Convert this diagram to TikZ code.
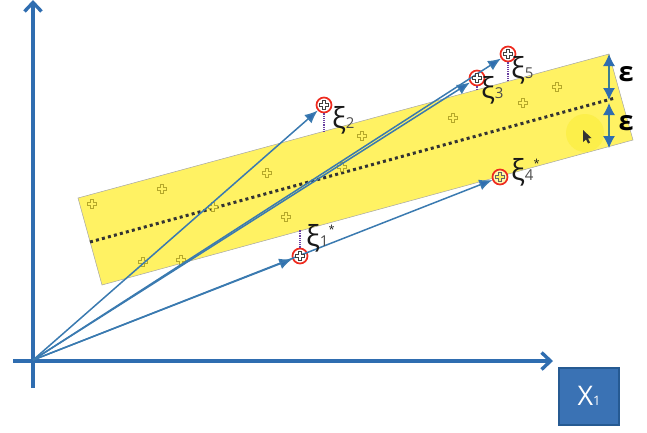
\documentclass[tikz,border=0pt]{standalone}
\usepackage{fontspec}
\setmainfont{Open Sans}
\usetikzlibrary{arrows.meta}
\definecolor{axisblue}{HTML}{2F6DB0}
\definecolor{boxblue}{HTML}{3A72B4}
\definecolor{boxedge}{HTML}{265A92}
\definecolor{bandyellow}{HTML}{FFF263}
\definecolor{glowyellow}{HTML}{FCEF4A}
\definecolor{plusedge}{HTML}{B5A82A}
\definecolor{slackpurple}{HTML}{6A3FA0}
\definecolor{vecblue}{HTML}{3A7AB0}
\definecolor{bartteal}{HTML}{3E7E90}
\definecolor{ptred}{HTML}{EE2A1E}
\tikzset{
  axisline/.style={draw=axisblue,line width=3.6pt,-{Straight Barb[length=9pt,width=17pt,line width=3.4pt]}},
  vecline/.style={draw=vecblue,line width=1.5pt,-{Latex[length=13pt,width=11pt,fill=axisblue]}},
  ptcircle/.style={circle,draw=ptred,line width=1.7pt,fill=white,minimum size=15pt,inner sep=0pt},
  slackline/.style={draw=slackpurple,line width=1.2pt,densely dotted},
  epsbar/.style={draw=bartteal,line width=1.2pt,{Latex[length=12pt,width=12pt,color=axisblue]}-{Latex[length=12pt,width=12pt,color=axisblue]}},
  ximark/.style={inner sep=0pt,text=black!90,font=\fontsize{29}{29}\selectfont},
  epsmark/.style={inner sep=0pt,font=\fontsize{27}{27}\selectfont\bfseries},
  plusmark/.pic={\draw[line width=0.7pt,fill=bandyellow,#1] (-1.7,-4.8) -- (1.7,-4.8) -- (1.7,-1.7) -- (4.8,-1.7) -- (4.8,1.7) -- (1.7,1.7) -- (1.7,4.8) -- (-1.7,4.8) -- (-1.7,1.7) -- (-4.8,1.7) -- (-4.8,-1.7) -- (-1.7,-1.7) -- cycle;}
}
\newcommand{\sublab}[1]{\fontsize{15}{15}\selectfont\textcolor{black!70}{#1}}
\newcommand{\starlab}{\fontsize{11}{11}\selectfont *}
\begin{document}
\begin{tikzpicture}[x=1pt,y=-1pt]
\useasboundingbox (0,0) rectangle (647,432);

% the band and its centre line
\fill[bandyellow,draw=black!35,line width=0.5pt] (78,198) -- (609,54) -- (633,140) -- (102,285) -- cycle;
\fill[glowyellow] (585,133) circle (19);
\fill[black!80] (583,130) -- (583,142) -- (586,139.5) -- (588,143.5) -- (590,142.5) -- (588,138.5) -- (591.5,138) -- cycle;
\draw[line width=3pt,dash pattern=on 3pt off 3.2pt,black!80] (90,242) -- (615,98);

\foreach \x/\y in {92/204,162/189,267/173,213/207,286/217,143/262,181/260,362/136,342/167,453/118,523/103,557/87}
\pic at (\x,\y) {plusmark={draw=plusedge}};

% axes
\coordinate (axl) at (13,361);
\coordinate (axr) at (553,361);
\coordinate (ayb) at (33,388);
\coordinate (ayt) at (33,0);
\coordinate (orig) at (33,360);
\draw[axisline] (axl) -- (axr);
\draw[axisline] (ayb) -- (ayt);

% points with slack
\node[ptcircle] (p1) at (300,256) {};
\node[ptcircle] (p2) at (324,105) {};
\node[ptcircle] (p3) at (477,78) {};
\node[ptcircle,fill=bandyellow!50] (p4) at (500,177) {};
\node[ptcircle] (p5) at (508,54) {};

\foreach \i in {1,2,3,4,5} \draw[vecline] (orig) -- (p\i);

\foreach \i in {1,2,3,5} \pic at (p\i) {plusmark={draw=black!75,fill=white}};
\pic at (p4) {plusmark={draw=black!60}};

\coordinate (s1) at (300,230);
\coordinate (s2) at (324,132);
\coordinate (s3) at (477,89);
\coordinate (s5) at (508,81);
\foreach \i in {1,2,3,5} \draw[slackline] (p\i) -- (s\i);

\node[ximark,anchor=west] (xi1) at (306,238) {ξ\sublab{1}\raisebox{13pt}{\starlab}};
\node[ximark,anchor=west] (xi2) at (332,120) {ξ\sublab{2}};
\node[ximark,anchor=west] (xi3) at (481,90) {ξ\sublab{3}};
\node[ximark,anchor=west] (xi5) at (511,70) {ξ\sublab{5}};
\node[ximark,anchor=west] (xi4) at (511,172) {ξ\sublab{4}\raisebox{13pt}{\starlab}};

% epsilon bars
\coordinate (e1) at (609,54);
\coordinate (e2) at (609,100);
\coordinate (e3) at (609,103);
\coordinate (e4) at (609,148);
\draw[epsbar] (e1) -- (e2);
\draw[epsbar] (e3) -- (e4);
\node[epsmark] (eps1) at (626,74) {ε};
\node[epsmark] (eps2) at (626,123) {ε};

\node[draw=boxedge,fill=boxblue,line width=2pt,minimum width=60pt,minimum height=57pt,inner sep=0pt,text=white,font=\fontsize{27}{27}\selectfont] (xlab) at (589,396) {X\fontsize{13}{13}\selectfont 1};
\end{tikzpicture}
\end{document}
